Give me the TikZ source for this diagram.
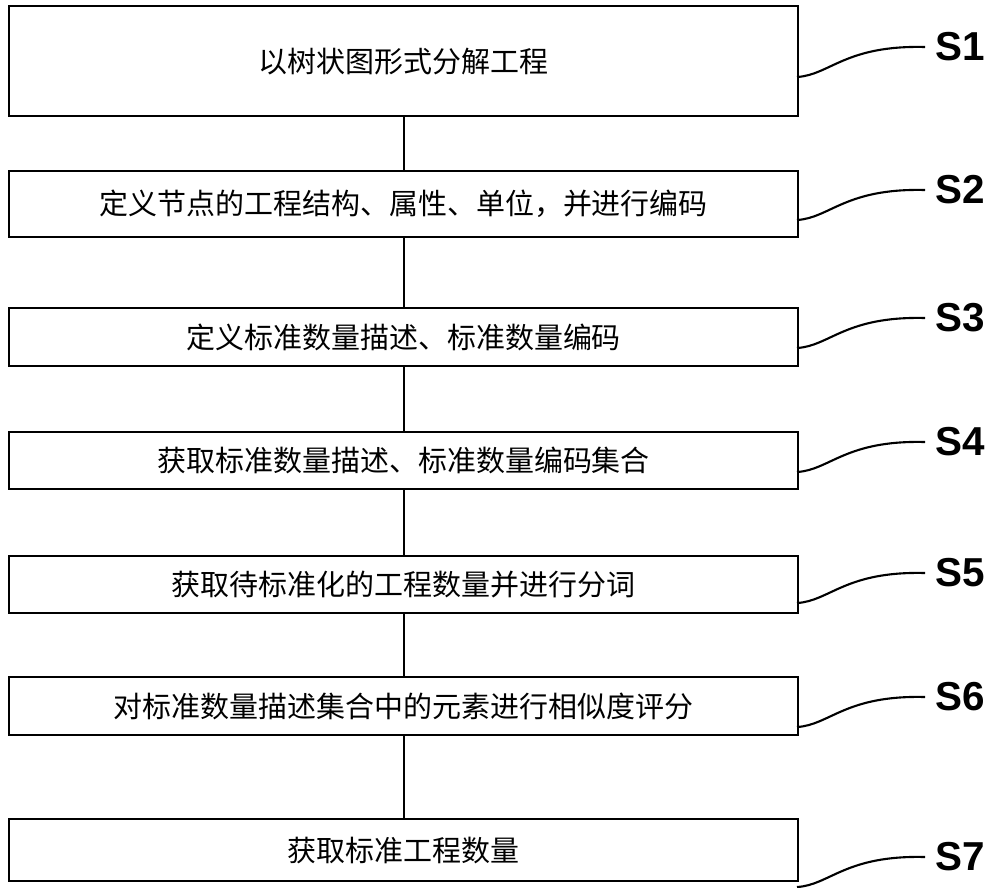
\documentclass[tikz,border=0pt]{standalone}
\usepackage{fontspec}
\setmainfont{Liberation Sans}
\newfontfamily\cjk{Noto Sans CJK SC}
\begin{document}
\begin{tikzpicture}[x=0.02cm,y=-0.02cm,
  box/.style={draw,line width=1.2pt,minimum width=789*0.02cm,anchor=north west,inner sep=0pt,font=\cjk\fontsize{16.5}{20}\selectfont},
  lab/.style={font=\bfseries\fontsize{23}{28}\selectfont,anchor=center},
  wave/.style={line width=1.2pt}]
\useasboundingbox (0,0) rectangle (1000,887);
\node[box,minimum height=110*0.02cm] (b1) at (8,5) {以树状图形式分解工程};
\node[box,minimum height=66*0.02cm] (b2) at (8,170) {定义节点的工程结构、属性、单位，并进行编码};
\node[box,minimum height=58*0.02cm] (b3) at (8,307) {定义标准数量描述、标准数量编码};
\node[box,minimum height=57*0.02cm] (b4) at (8,431) {获取标准数量描述、标准数量编码集合};
\node[box,minimum height=57*0.02cm] (b5) at (8,555) {获取待标准化的工程数量并进行分词};
\node[box,minimum height=58*0.02cm] (b6) at (8,676) {对标准数量描述集合中的元素进行相似度评分};
\node[box,minimum height=62*0.02cm] (b7) at (8,818) {获取标准工程数量};
\foreach \a/\b in {b1/b2,b2/b3,b3/b4,b4/b5,b5/b6,b6/b7} \draw[line width=1.2pt] (\a.south) -- (\b.north);
\foreach \i/\y in {1/47,2/190,3/318,4/442,5/573,6/697,7/857}{
  \node[lab] (s\i) at (960,\y) {S\i};
  \coordinate (e\i) at (925,\y);
  \coordinate (st\i) at (797,\y+30);
  \draw[wave] (st\i) .. controls (830,\y+28) and (845,\y-2) .. (e\i);
}
\end{tikzpicture}
\end{document}
